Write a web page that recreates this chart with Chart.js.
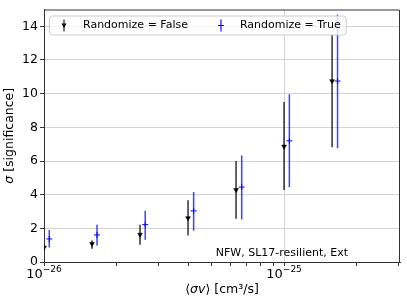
<!DOCTYPE html>
<html>
<head>
<meta charset="utf-8">
<script src="https://cdn.jsdelivr.net/npm/chart.js@4"></script>
<style>
  html, body { margin: 0; padding: 0; background: #fff; }
</style>
</head>
<body>
<canvas id="chart" width="407" height="305"></canvas>
<script>
// <sigma v> values, significance and error bar ends
const xFalse = [1.0e-26, 1.585e-26, 2.512e-26, 3.981e-26, 6.31e-26, 1.0e-25, 1.585e-25]
const sigFalse = [0.86, 1.08, 1.63, 2.61, 4.28, 6.86, 10.75]
const sigFalseLo = [0.69, 0.79, 1.02, 1.57, 2.57, 4.28, 6.82]
const sigFalseHi = [0.98, 1.28, 2.22, 3.67, 6.0, 9.51, 13.5]

const xTrue = [1.052e-26, 1.663e-26, 2.64e-26, 4.2e-26, 6.66e-26, 1.052e-25, 1.67e-25]
const sigTrue = [1.37, 1.61, 2.22, 3.04, 4.45, 7.2, 10.75]
const sigTrueLo = [0.86, 0.98, 1.32, 1.86, 2.53, 4.45, 6.76]
const sigTrueHi = [1.9, 2.22, 3.04, 4.16, 6.33, 9.96, 14.7]

const xTickValues = [1e-26, 2e-26, 3e-26, 4e-26, 5e-26, 6e-26, 7e-26, 8e-26, 9e-26, 1e-25, 2e-25, 3e-25]
const xTickExponents = {'1e-26': '\u221226', '1e-25': '\u221225'}
const yTickValues = [0, 2, 4, 6, 8, 10, 12, 14]

const labelFalse = 'Randomize = False'
const labelTrue = 'Randomize = True'
const note = 'NFW, SL17-resilient, Ext'

const FONT = "'DejaVu Sans', sans-serif"
const isMajor = v => xTickExponents[Number(v).toExponential(0)] !== undefined


// draws a run of [text, font] pieces starting at x
function drawPieces(ctx, pieces, x, y) {
  pieces.forEach(([txt, font]) => {
    ctx.font = font
    ctx.fillText(txt, x, y)
    x += ctx.measureText(txt).width
  })
}

function piecesWidth(ctx, pieces) {
  let w = 0
  pieces.forEach(([txt, font]) => {
    ctx.font = font
    w += ctx.measureText(txt).width
  })
  return w
}


const errorBars = {
  id: 'errorBars',
  beforeDatasetsDraw(chart) {
    const {ctx, chartArea: a, scales: {x, y}} = chart
    ctx.save()
    ctx.beginPath()
    ctx.rect(a.left, a.top, a.right - a.left, a.bottom - a.top)
    ctx.clip()
    chart.data.datasets.forEach(ds => {
      ctx.strokeStyle = ds.barColor
      ctx.lineWidth = ds.barWidth
      ds.data.forEach((p, i) => {
        const px = x.getPixelForValue(p.x)
        ctx.beginPath()
        ctx.moveTo(px, y.getPixelForValue(ds.lo[i]))
        ctx.lineTo(px, y.getPixelForValue(ds.hi[i]))
        ctx.stroke()
      })
    })
    ctx.restore()
  },
}


const frameAndLegend = {
  id: 'frameAndLegend',
  afterDraw(chart) {
    const {ctx, chartArea: a, scales: {x}} = chart
    ctx.save()

    // top and right spines
    ctx.strokeStyle = '#333'
    ctx.lineWidth = 1
    ctx.beginPath()
    ctx.moveTo(a.left, a.top + 0.5)
    ctx.lineTo(a.right - 0.5, a.top + 0.5)
    ctx.lineTo(a.right - 0.5, a.bottom)
    ctx.stroke()

    // x tick labels as 10^n
    ctx.fillStyle = '#000'
    ctx.textAlign = 'left'
    ctx.textBaseline = 'alphabetic'
    xTickValues.filter(isMajor).forEach(v => {
      const exp = xTickExponents[v.toExponential(0)]
      ctx.font = '13px ' + FONT
      const wb = ctx.measureText('10').width
      ctx.font = '9px ' + FONT
      const we = ctx.measureText(exp).width
      const left = x.getPixelForValue(v) - (wb + we) / 2
      ctx.font = '13px ' + FONT
      ctx.fillText('10', left, a.bottom + 16)
      ctx.font = '9px ' + FONT
      ctx.fillText(exp, left + wb, a.bottom + 10)
    })

    // axis titles
    const normal = '12.5px ' + FONT
    const italic = 'italic 12.5px ' + FONT
    const xTitle = [['\u27E8', normal], ['\u03C3v', italic], ['\u27E9 [cm\u00B3/s]', normal]]
    const xw = piecesWidth(ctx, xTitle)
    ctx.textBaseline = 'middle'
    drawPieces(ctx, xTitle, (a.left + a.right) / 2 - xw / 2, 290)

    const yTitle = [['\u03C3', italic], [' [significance]', normal]]
    const yw = piecesWidth(ctx, yTitle)
    ctx.save()
    ctx.translate(10, (a.top + a.bottom) / 2)
    ctx.rotate(-Math.PI / 2)
    drawPieces(ctx, yTitle, -yw / 2, 0)
    ctx.restore()

    // text in the corner
    ctx.font = '11px ' + FONT
    ctx.fillStyle = '#000'
    ctx.textAlign = 'right'
    ctx.textBaseline = 'alphabetic'
    ctx.fillText(note, a.right - 52, a.bottom - 6)

    // legend
    const [dsF, dsT] = chart.data.datasets
    const boxL = a.left + 5, boxT = a.top + 6, boxH = 19
    const t1 = boxL + 34
    const w1 = ctx.measureText(dsF.label).width
    const h2 = t1 + w1 + 33
    const t2 = h2 + 19
    const w2 = ctx.measureText(dsT.label).width
    const boxR = t2 + w2 + 5
    ctx.fillStyle = 'rgba(255,255,255,0.8)'
    ctx.strokeStyle = '#cccccc'
    ctx.beginPath()
    ctx.roundRect(boxL + 0.5, boxT + 0.5, boxR - boxL, boxH, 3)
    ctx.fill()
    ctx.stroke()

    const cy = boxT + boxH / 2 + 0.5
    const h1 = boxL + 15
    ctx.lineWidth = 1.5
    ctx.strokeStyle = dsF.barColor
    ctx.beginPath(); ctx.moveTo(h1, cy - 6); ctx.lineTo(h1, cy + 6); ctx.stroke()
    ctx.fillStyle = '#000'
    ctx.beginPath()
    ctx.moveTo(h1 - 2.5, cy - 2); ctx.lineTo(h1 + 2.5, cy - 2); ctx.lineTo(h1, cy + 2.5); ctx.closePath()
    ctx.fill()

    ctx.strokeStyle = dsT.barColor
    ctx.beginPath(); ctx.moveTo(h2, cy - 6); ctx.lineTo(h2, cy + 6); ctx.stroke()
    ctx.lineWidth = 1
    ctx.strokeStyle = '#0000ff'
    ctx.beginPath(); ctx.moveTo(h2 - 3, cy); ctx.lineTo(h2 + 3, cy); ctx.stroke()

    ctx.fillStyle = '#000'
    ctx.textAlign = 'left'
    ctx.textBaseline = 'middle'
    ctx.fillText(dsF.label, t1, cy)
    ctx.fillText(dsT.label, t2, cy)

    ctx.restore()
  },
}


const config = {
  type: 'scatter',
  data: {
    datasets: [
      {
        label: labelFalse,
        data: xFalse.map((v, i) => ({x: v, y: sigFalse[i]})),
        lo: sigFalseLo,
        hi: sigFalseHi,
        barColor: 'rgba(0,0,0,0.68)',
        barWidth: 1.8,
        pointStyle: 'triangle',
        rotation: 180,
        radius: 2.8,
        backgroundColor: '#000',
        borderColor: '#000',
        borderWidth: 0.5,
        clip: 0,
      },
      {
        label: labelTrue,
        data: xTrue.map((v, i) => ({x: v, y: sigTrue[i]})),
        lo: sigTrueLo,
        hi: sigTrueHi,
        barColor: 'rgba(0,0,255,0.75)',
        barWidth: 1.5,
        pointStyle: 'cross',
        radius: 3,
        borderColor: '#0000ff',
        borderWidth: 1,
        clip: 0,
      },
    ],
  },
  options: {
    responsive: false,
    animation: false,
    devicePixelRatio: 1,
    layout: {padding: {top: 6, right: 7, left: 0, bottom: 0}},
    plugins: {
      legend: {display: false},
      tooltip: {enabled: false},
    },
    scales: {
      x: {
        type: 'logarithmic',
        min: 1e-26,
        max: 3.04e-25,
        afterBuildTicks: axis => {
          axis.ticks = xTickValues.map(v => ({value: v, major: isMajor(v)}))
        },
        afterFit: axis => { axis.height = 43 },
        ticks: {
          autoSkip: false,
          maxRotation: 0,
          callback: () => '',
        },
        grid: {
          color: c => (c.tick && isMajor(c.tick.value)) ? '#d3d3d3' : 'rgba(0,0,0,0)',
          tickColor: '#333',
          tickLength: 4,
          lineWidth: 1,
        },
        border: {color: '#333', width: 1},
      },
      y: {
        min: 0,
        max: 15,
        afterBuildTicks: axis => {
          axis.ticks = yTickValues.map(v => ({value: v}))
        },
        afterFit: axis => { axis.width = 44 },
        ticks: {
          padding: 2,
          color: '#000',
          font: {family: FONT, size: 12.5},
        },
        grid: {
          color: '#d3d3d3',
          tickColor: '#333',
          tickLength: 4,
        },
        border: {color: '#333', width: 1},
      },
    },
  },
  plugins: [errorBars, frameAndLegend],
}

new Chart(document.getElementById('chart').getContext('2d'), config)
</script>
</body>
</html>
